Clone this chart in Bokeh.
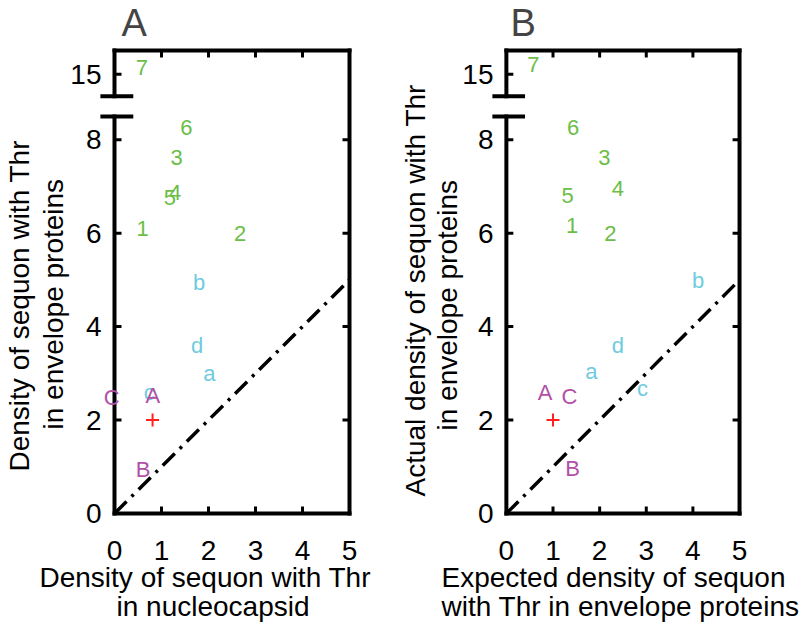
from bokeh.plotting import figure
from bokeh.models import (ColumnDataSource, LabelSet, Title, FixedTicker, Range1d)
from bokeh.layouts import row
from bokeh.embed import file_html
from bokeh.resources import INLINE
from bokeh.core.properties import value

# ---------------- data ----------------
point_labels = ["7", "6", "3", "4", "5", "1", "2", "b", "d", "a", "c", "A", "C", "B"]
point_groups = ["num"] * 7 + ["lower"] * 4 + ["upper"] * 3

# Panel A: density in nucleocapsid (x) vs density in envelope proteins (y)
a_x = [0.45, 1.40, 1.19, 1.16, 1.05, 0.47, 2.54, 1.67, 1.63, 1.89, 0.62, 0.66, -0.23, 0.45]
a_y = [15.15, 8.27, 7.63, 6.88, 6.77, 6.10, 5.99, 4.95, 3.60, 2.99, 2.58, 2.53, 2.49, 0.94]
a_mean_x = [0.81]
a_mean_y = [2.0]

# Panel B: expected (x) vs actual (y) density in envelope proteins
b_x = [0.45, 1.30, 1.97, 2.26, 1.18, 1.28, 2.10, 3.98, 2.26, 1.69, 2.80, 0.67, 1.18, 1.26]
b_y = [15.2, 8.27, 7.63, 6.95, 6.81, 6.17, 5.99, 4.99, 3.60, 3.03, 2.67, 2.58, 2.51, 0.96]
b_mean_x = [1.0]
b_mean_y = [2.0]

diag_x = [0, 5]
diag_y = [0, 5]

x_ticks = [0, 1, 2, 3, 4, 5]
y_ticks = [0, 2, 4, 6, 8, 15]
y_tick_labels = ["0", "2", "4", "6", "8", "15"]

# ---------------- styling / geometry ----------------
FONT = "Liberation Sans"
GROUP_COLORS = {"num": "#6bbe47", "lower": "#6fcbe0", "upper": "#b24fa6"}

# broken y axis: values up to 8.5 shown as is, upper segment starts around 15
BREAK_LO, BREAK_HI, UPPER_AT, UPPER_VAL = 8.5, 8.93, 9.4, 15.0
Y_TOP = 9.91
X_MAX = 5
BOX_W, BOX_H = 235, 463          # pixel size of the drawn box
PX_X, PX_Y = BOX_W / X_MAX, BOX_H / Y_TOP
PAD_L, PAD_R, PAD_B, PAD_T = 15, 5, 5, 5   # frame padding around the box (px)
TICK_PX = 7
LW = 4


def yv(v):
    return v if v <= BREAK_LO else UPPER_AT + (v - UPPER_VAL)


def style_label_axis(ax, ticks, standoff):
    ax.ticker = FixedTicker(ticks=ticks)
    ax.axis_line_color = None
    ax.major_tick_line_color = None
    ax.minor_tick_line_color = None
    ax.major_tick_in = 0
    ax.major_tick_out = 0
    ax.major_label_standoff = standoff
    ax.major_label_text_font = FONT
    ax.major_label_text_color = "black"
    ax.major_label_text_font_size = "28px"


def axis_title(text, offset, standoff):
    return Title(text=text, align="left", offset=offset, standoff=standoff,
                 text_font=FONT, text_font_size="28px", text_font_style="normal",
                 text_color="black")


def make_panel(letter, letter_offset, xs, ys, mx, my, xlab, xoffs, ylab, yoffs, ystand,
               width, border_left, border_right):
    p = figure(width=width, height=630, output_backend="svg", toolbar_location=None,
               x_range=Range1d(-PAD_L / PX_X, X_MAX + PAD_R / PX_X),
               y_range=Range1d(-PAD_B / PX_Y, Y_TOP + PAD_T / PX_Y),
               min_border_left=border_left, min_border_right=border_right,
               min_border_top=45, min_border_bottom=112)
    p.grid.visible = False
    p.outline_line_color = None
    p.background_fill_color = "white"
    p.border_fill_color = "white"

    p.title.text = letter
    p.title.text_font = FONT
    p.title.text_font_size = "38px"
    p.title.text_font_style = "normal"
    p.title.align = "left"
    p.title.offset = letter_offset
    p.title.vertical_align = "top"
    p.title.standoff = 0

    style_label_axis(p.xaxis[0], x_ticks, 22)
    ya = p.yaxis[0]
    style_label_axis(ya, [yv(t) for t in y_ticks], -2)
    ya.major_label_overrides = {yv(t): s for t, s in zip(y_ticks, y_tick_labels)}

    # axis titles (two lines each), first added sits next to the axis
    p.add_layout(axis_title(xlab[0], xoffs[0], -6), "below")
    p.add_layout(axis_title(xlab[1], xoffs[1], -2), "below")
    p.add_layout(axis_title(ylab[1], yoffs[1], ystand[1]), "left")
    p.add_layout(axis_title(ylab[0], yoffs[0], ystand[0]), "left")

    # box: bottom, top, right edges and a left edge broken between 8.5 and 15
    x0s = [0, 0, X_MAX, 0, 0]
    x1s = [X_MAX, X_MAX, X_MAX, 0, 0]
    y0s = [0, Y_TOP, 0, 0, BREAK_HI]
    y1s = [0, Y_TOP, Y_TOP, BREAK_LO, Y_TOP]
    p.segment(x0=x0s, y0=y0s, x1=x1s, y1=y1s, line_color="black", line_width=LW,
              line_cap="square")
    # break bars
    p.segment(x0=[-0.30, -0.30], y0=[BREAK_LO, BREAK_HI], x1=[0.40, 0.40],
              y1=[BREAK_LO, BREAK_HI], line_color="black", line_width=LW)

    # inward ticks on all four edges
    dx = TICK_PX / PX_X
    dy = TICK_PX / PX_Y
    inner_x = x_ticks[1:-1]
    n = len(inner_x)
    p.segment(x0=inner_x * 2, y0=[0] * n + [Y_TOP] * n,
              x1=inner_x * 2, y1=[dy] * n + [Y_TOP - dy] * n,
              line_color="black", line_width=3)
    left_y = [yv(t) for t in y_ticks[1:]]
    right_y = [t for t in y_ticks if 0 < t <= BREAK_LO]
    p.segment(x0=[0] * len(left_y) + [X_MAX] * len(right_y), y0=left_y + right_y,
              x1=[dx] * len(left_y) + [X_MAX - dx] * len(right_y), y1=left_y + right_y,
              line_color="black", line_width=3)

    # diagonal y = x
    p.line(diag_x, diag_y, line_color="black", line_width=3.5, line_dash="17 7 3 7")

    # mean marker
    p.scatter(mx, [yv(v) for v in my], marker="cross", size=13,
              line_color="#ff2020", line_width=2)

    src = ColumnDataSource(dict(
        x=xs, y=[yv(v) for v in ys], label=point_labels,
        clr=[GROUP_COLORS[g] for g in point_groups]))
    p.add_layout(LabelSet(x="x", y="y", text="label", source=src,
                          text_color="clr", text_font=value(FONT),
                          text_font_size="22px", text_align="left",
                          text_baseline="middle"))
    return p


pA = make_panel("A", 22, a_x, a_y, a_mean_x, a_mean_y,
                ["Density of sequon with Thr", "in nucleocapsid"], [-60, 17],
                ["Density of sequon with Thr", "in envelope proteins"], [47, 89], [3, -2],
                394, 99, 40)
pB = make_panel("B", 19, b_x, b_y, b_mean_x, b_mean_y,
                ["Expected density of sequon", "with Thr in envelope proteins"], [-50, -50],
                ["Actual density of sequon with Thr", "in envelope proteins"], [22, 88], [6, -7],
                415, 95, 65)

layout = row(pA, pB)
open("out.html", "w").write(file_html(layout, INLINE))
